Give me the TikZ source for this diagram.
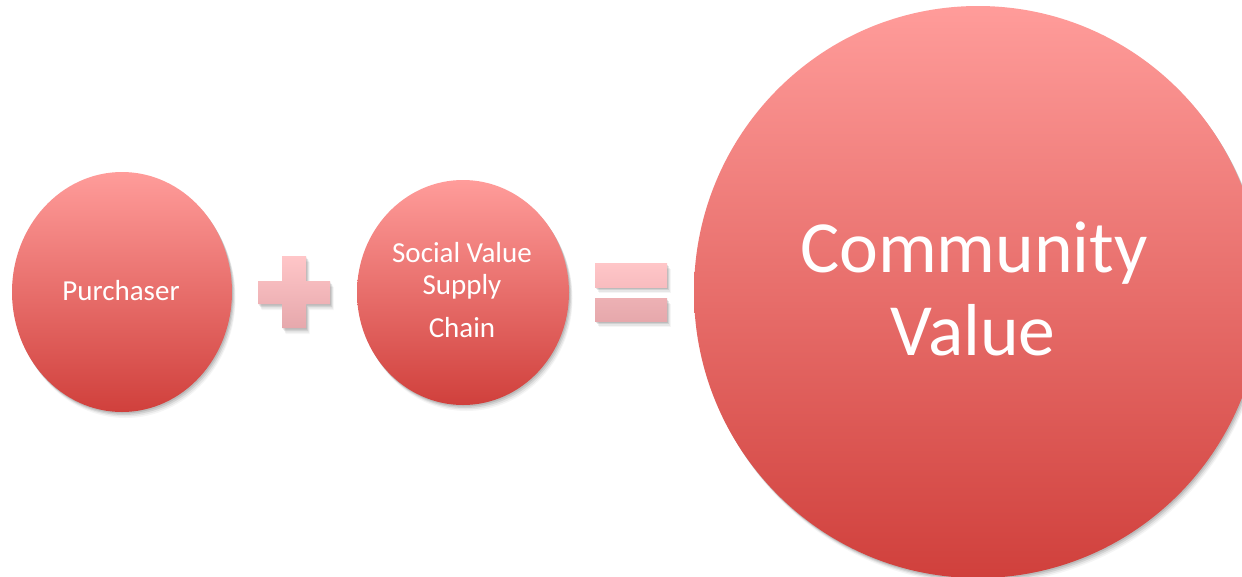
\documentclass[tikz,border=0pt]{standalone}
\usepackage{fontspec}
\setmainfont{Carlito}
\usetikzlibrary{shapes.geometric,shadows}
\definecolor{bubtop}{RGB}{255,156,154}
\definecolor{bubbot}{RGB}{208,64,60}
\definecolor{optop}{RGB}{255,198,200}
\definecolor{opbot}{RGB}{230,168,172}
\definecolor{opmidA}{RGB}{248,188,191}
\definecolor{opmidB}{RGB}{237,177,180}
\begin{document}
\begin{tikzpicture}[x=1pt,y=-1pt,
  softshadow/.style={
    drop shadow={shadow xshift=1pt, shadow yshift=-1.5pt, opacity=0.10, fill=black},
    drop shadow={shadow xshift=2pt, shadow yshift=-3pt, opacity=0.09, fill=black},
    drop shadow={shadow xshift=3pt, shadow yshift=-4.5pt, opacity=0.06, fill=black},
    drop shadow={shadow xshift=3.5pt, shadow yshift=-6pt, opacity=0.04, fill=black}},
  bubble/.style={ellipse, inner sep=0pt, draw=none, top color=bubtop, bottom color=bubbot, softshadow},
  opshape/.style={draw=none, softshadow},
  lbl/.style={text=white, inner sep=0pt, anchor=base, font=\fontsize{29}{32}\selectfont},
  biglbl/.style={text=white, inner sep=0pt, anchor=base, font=\fontsize{73.6}{83}\selectfont}]
\useasboundingbox (0,0) rectangle (1242,576);
\fill[white] (0,0) rectangle (1242,576);
\clip (0,0) rectangle (1242,576);
% bubbles
\node[bubble, minimum width=220pt, minimum height=240pt] (purch) at (122,292) {};
\node[bubble, minimum width=212pt, minimum height=225pt] (svsc) at (463,292.5) {};
\node[bubble, minimum width=568pt, minimum height=572pt] (comm) at (978,292) {};
% plus sign
\path[opshape, top color=optop, bottom color=opbot]
  (282,256) -- (306,256) -- (306,281) -- (330,281) -- (330,304) -- (306,304)
  -- (306,328) -- (282,328) -- (282,304) -- (258,304) -- (258,281) -- (282,281) -- cycle;
% equals sign
\path[opshape, top color=optop, bottom color=opmidA] (595,263) rectangle (667,287);
\path[opshape, top color=opmidB, bottom color=opbot] (595,298) rectangle (667,321);
% labels
\node[lbl] (purchT) at (121,300) {Purchaser};
\node[lbl] (svsA) at (462,262) {Social Value};
\node[lbl] (svsB) at (462,294) {Supply};
\node[lbl] (svsC) at (462,337) {Chain};
\node[biglbl] (commA) at (974,272) {Community};
\node[biglbl] (commB) at (973,355) {Value};
\end{tikzpicture}
\end{document}
